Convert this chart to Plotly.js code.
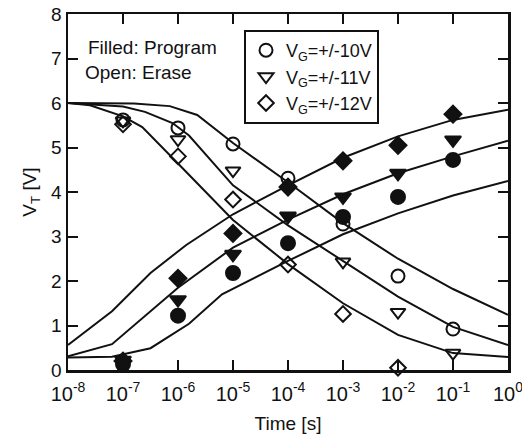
<!DOCTYPE html>
<html>
<head>
<meta charset="utf-8">
<script src="https://cdn.plot.ly/plotly-3.0.1.min.js"></script>
<style>html,body{margin:0;padding:0;background:#fff;}#chart{width:522px;height:434px;}</style>
</head>
<body>
<div id="chart"></div>
<script>
// Measured points (time in seconds)
const markerTimes = [1e-7, 1e-6, 1e-5, 1e-4, 1e-3, 1e-2, 1e-1];
// Erase (open markers)
const erase10 = [5.62, 5.44, 5.08, 4.31, 3.28, 2.11, 0.92];
const erase11 = [5.60, 5.18, 4.48, 3.45, 2.43, 1.30, 0.38];
const erase12 = [5.52, 4.80, 3.83, 2.37, 1.26, 0.05, null];
// Program (filled markers)
const prog10 = [0.13, 1.22, 2.18, 2.85, 3.44, 3.89, 4.72];
const prog11 = [0.22, 1.58, 2.60, 3.46, 3.89, 4.42, 5.17];
const prog12 = [0.20, 2.06, 3.07, 4.11, 4.70, 5.05, 5.75];

// Model curves: log10(time) and VT
const eraseFit10Log = [-8, -6.8, -6.15, -5.65, -5, -4, -3, -2, -1, 0];
const eraseFit10 = [6.0, 5.99, 5.93, 5.73, 5.10, 4.22, 3.30, 2.50, 1.82, 1.24];
const eraseFit11Log = [-8, -7, -6.6, -6.1, -5.8, -5, -4, -3, -2, -1, 0];
const eraseFit11 = [6.0, 5.92, 5.80, 5.55, 5.27, 4.15, 3.25, 2.45, 1.65, 0.97, 0.56];
const eraseFit12Log = [-8, -7.6, -7, -6.65, -6, -5, -4, -3, -2, -1, 0];
const eraseFit12 = [6.0, 5.95, 5.70, 5.46, 4.64, 3.37, 2.38, 1.50, 0.79, 0.38, 0.29];
const progFit10Log = [-8, -7.2, -6.5, -5.8, -5.2, -4, -3, -2, -1, 0];
const progFit10 = [0.28, 0.30, 0.49, 1.04, 1.70, 2.45, 3.05, 3.52, 3.92, 4.25];
const progFit11Log = [-8, -7.2, -6, -5, -4, -3, -2, -1, 0];
const progFit11 = [0.31, 0.58, 1.85, 2.75, 3.38, 3.95, 4.42, 4.80, 5.15];
const progFit12Log = [-8, -7.2, -6.5, -5.85, -5, -4, -3, -2, -1, 0];
const progFit12 = [0.56, 1.32, 2.18, 2.81, 3.50, 4.15, 4.77, 5.25, 5.62, 5.85];

const legendNames = ['V<sub>G</sub>=+/-10V', 'V<sub>G</sub>=+/-11V', 'V<sub>G</sub>=+/-12V'];
const xTickVals = [1e-8, 1e-7, 1e-6, 1e-5, 1e-4, 1e-3, 1e-2, 1e-1, 1e0];
const xTickText = ['10<sup>-8</sup>', '10<sup>-7</sup>', '10<sup>-6</sup>', '10<sup>-5</sup>',
  '10<sup>-4</sup>', '10<sup>-3</sup>', '10<sup>-2</sup>', '10<sup>-1</sup>', '10<sup>0</sup>'];

const toT = a => a.map(v => Math.pow(10, v));
const lineStyle = {color: '#111', width: 2};
function fit(logs, vals) {
  return {x: toT(logs), y: vals, mode: 'lines', line: lineStyle, showlegend: false, hoverinfo: 'skip'};
}
function pts(vals, symbol, size, name, show) {
  return {x: markerTimes, y: vals, mode: 'markers', name: name || '', showlegend: !!show,
    cliponaxis: false,
    marker: {symbol: symbol, size: size, color: '#111', line: {color: '#111', width: 2}}};
}

const traces = [
  fit(eraseFit10Log, eraseFit10), fit(eraseFit11Log, eraseFit11), fit(eraseFit12Log, eraseFit12),
  fit(progFit10Log, progFit10), fit(progFit11Log, progFit11), fit(progFit12Log, progFit12),
  pts(erase10, 'circle-open', 13, legendNames[0], true),
  pts(erase11, 'triangle-down-open', 13, legendNames[1], true),
  pts(erase12, 'diamond-open', 12, legendNames[2], true),
  pts(prog10, 'circle', 14),
  pts(prog11, 'triangle-down', 14),
  pts(prog12, 'diamond', 13)
];

const font = {family: '"Liberation Sans", Arial, sans-serif', color: '#111'};
const layout = {
  width: 522, height: 434,
  margin: {l: 68, r: 14, t: 14, b: 64},
  paper_bgcolor: '#fff', plot_bgcolor: '#fff',
  font: Object.assign({size: 17}, font),
  showlegend: true,
  legend: {x: 0.4, y: 0.955, xanchor: 'left', yanchor: 'top', bgcolor: '#fff',
    bordercolor: '#111', borderwidth: 2, font: Object.assign({size: 18}, font)},
  xaxis: {type: 'log', range: [-8, 0], tickmode: 'array', tickvals: xTickVals, ticktext: xTickText,
    tickangle: 0, ticklabeloverflow: 'allow', ticklabelstandoff: 4,
    ticks: 'inside', ticklen: 10, tickwidth: 2, tickcolor: '#111',
    showline: true, linewidth: 2.5, linecolor: '#111', mirror: 'ticks',
    showgrid: false, zeroline: false, tickfont: Object.assign({size: 20}, font),
    title: {text: 'Time [s]', font: Object.assign({size: 19}, font), standoff: 14}},
  yaxis: {range: [0, 8], dtick: 1, ticks: 'inside', ticklen: 10, tickwidth: 2, tickcolor: '#111',
    showline: true, linewidth: 2.5, linecolor: '#111', mirror: 'ticks',
    showgrid: false, zeroline: false, tickfont: Object.assign({size: 19}, font),
    title: {text: 'V<sub>T</sub> [V]', font: Object.assign({size: 19}, font), standoff: 10}},
  annotations: [
    {xref: 'paper', yref: 'paper', x: 0.040, y: 0.905, xanchor: 'left', yanchor: 'middle',
     text: 'Filled: Program', showarrow: false, font: Object.assign({size: 19}, font)},
    {xref: 'paper', yref: 'paper', x: 0.034, y: 0.836, xanchor: 'left', yanchor: 'middle',
     text: 'Open: Erase', showarrow: false, font: Object.assign({size: 19}, font)}
  ]
};

Plotly.newPlot('chart', traces, layout, {displayModeBar: false, staticPlot: true});
</script>
</body>
</html>
